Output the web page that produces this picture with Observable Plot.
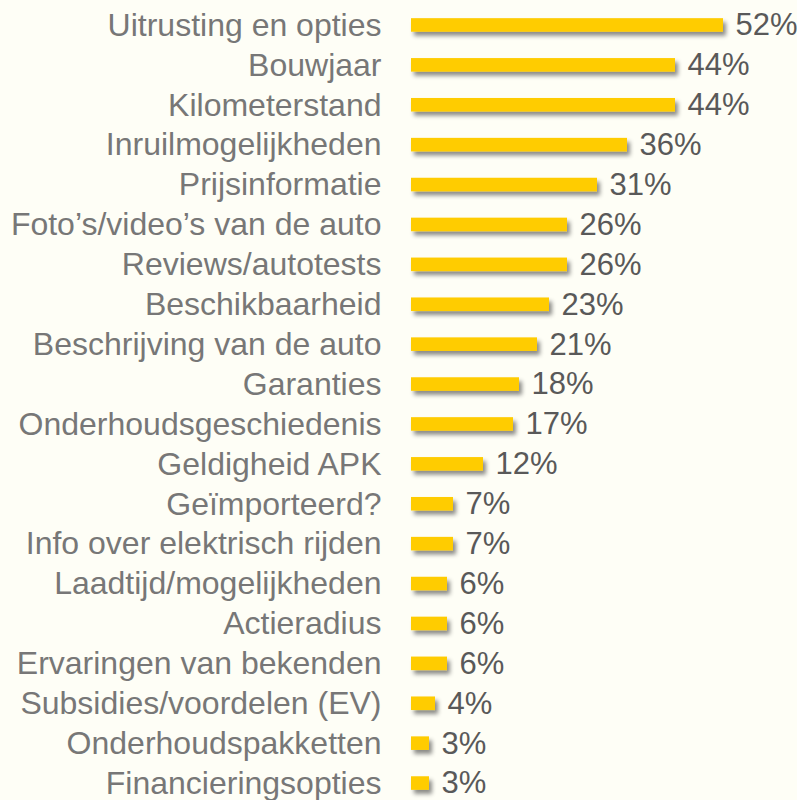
<!DOCTYPE html>
<html>
<head>
<meta charset="utf-8">
<script src="https://cdn.jsdelivr.net/npm/d3@7"></script>
<script src="https://cdn.jsdelivr.net/npm/@observablehq/plot@0.6"></script>
<style>
  html, body { margin: 0; padding: 0; background: #fefef6; }
  #chart svg { display: block; background: #fefef6; }
</style>
</head>
<body>
<div id="chart"></div>
<script>
const categories = [
  "Uitrusting en opties",
  "Bouwjaar",
  "Kilometerstand",
  "Inruilmogelijkheden",
  "Prijsinformatie",
  "Foto’s/video’s van de auto",
  "Reviews/autotests",
  "Beschikbaarheid",
  "Beschrijving van de auto",
  "Garanties",
  "Onderhoudsgeschiedenis",
  "Geldigheid APK",
  "Geïmporteerd?",
  "Info over elektrisch rijden",
  "Laadtijd/mogelijkheden",
  "Actieradius",
  "Ervaringen van bekenden",
  "Subsidies/voordelen (EV)",
  "Onderhoudspakketten",
  "Financieringsopties"
];
const values = [52, 44, 44, 36, 31, 26, 26, 23, 21, 18, 17, 12, 7, 7, 6, 6, 6, 4, 3, 3];

const data = categories.map((c, i) => ({category: c, value: values[i]}));

const chart = Plot.plot({
  width: 797,
  height: 800,
  marginLeft: 0,
  marginRight: 0,
  marginTop: 0,
  marginBottom: 0,
  style: {background: "#fefef6", fontFamily: "'Liberation Sans', Arial, sans-serif"},
  x: {domain: [0, 52], range: [411, 723], axis: null},
  y: {domain: categories, range: [5, 803], paddingInner: 0.66, paddingOuter: 0.33, round: false, axis: null},
  marks: [
    Plot.ruleX([0], {x: 0, y1: 5, y2: 800, stroke: "#d9d9d9", strokeWidth: 1.5}),
    Plot.barX(data, {x: "value", y: "category", fill: "#ffcc00"}),
    Plot.text(data, {
      x: 0, y: "category", text: "category",
      textAnchor: "end", dx: -30, fontSize: 32, fill: "#777777"
    }),
    Plot.text(data, {
      x: "value", y: "category", text: d => d.value + "%",
      textAnchor: "start", dx: 12, fontSize: 31, fill: "#595959"
    })
  ]
});

// drop shadow on bars
const svg = d3.select(chart);
const defs = svg.insert("defs", ":first-child");
const f = defs.append("filter").attr("id", "barShadow")
  .attr("x", "-10%").attr("y", "-50%").attr("width", "130%").attr("height", "250%");
f.append("feDropShadow").attr("dx", 3).attr("dy", 4).attr("stdDeviation", 2)
  .attr("flood-color", "#000").attr("flood-opacity", 0.45);
svg.selectAll("g[aria-label='bar']").attr("filter", "url(#barShadow)");

document.getElementById("chart").appendChild(chart);
</script>
</body>
</html>
